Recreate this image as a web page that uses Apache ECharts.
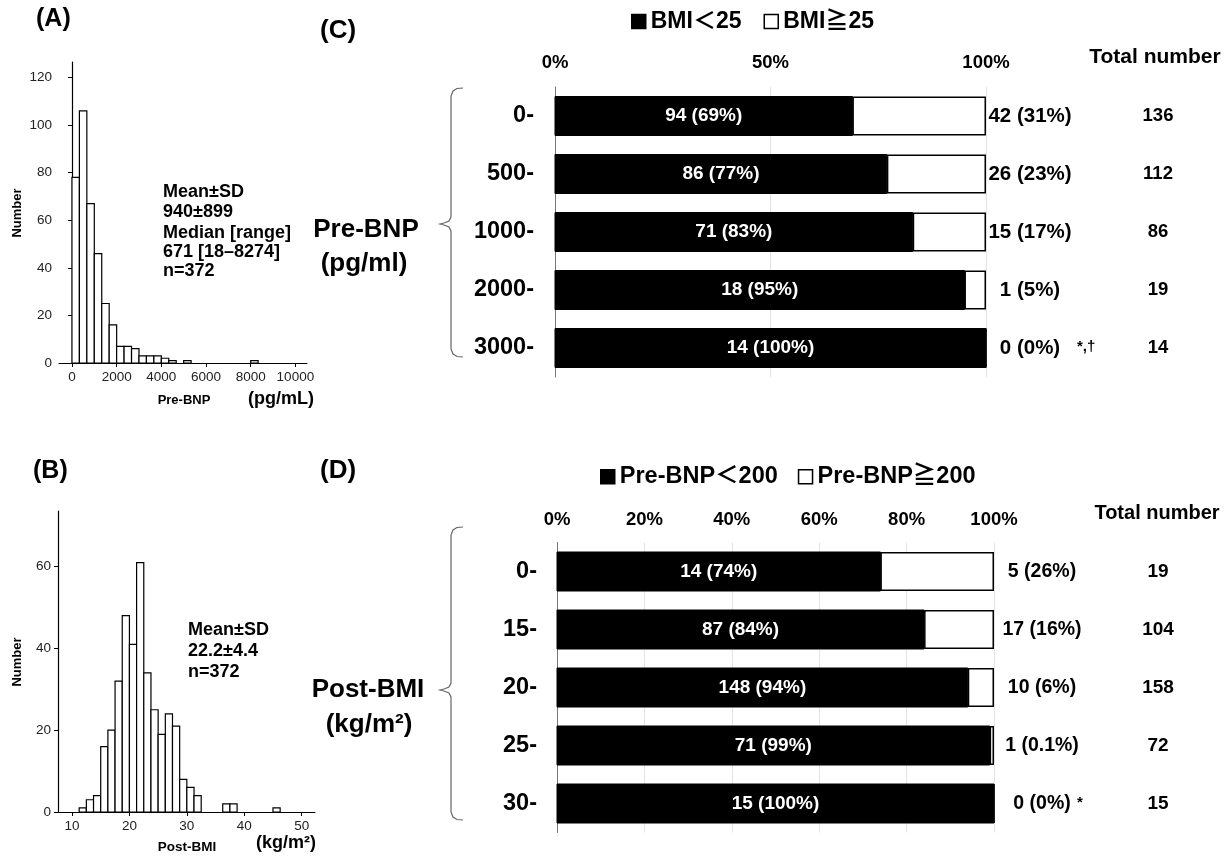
<!DOCTYPE html>
<html>
<head>
<meta charset="utf-8">
<script src="https://cdn.jsdelivr.net/npm/echarts@6/dist/echarts.min.js"></script>
<style>
html,body{margin:0;padding:0;background:#fff;}
#chart{width:1231px;height:856px;}
</style>
</head>
<body>
<div id="chart"></div>
<script>
// ---------- Data ----------
// (A) Pre-BNP histogram
const preBnpBinStart = [0,333,667,1000,1333,1667,2000,2333,2667,3000,3333,3667,4000,4333,5000,8000];
const preBnpBinCount = [78,106,67,46,25,16,7,7,6,3,3,3,2,1,1,1];
const preBnpBinWidth = 333;
const preBnpTicks = [0,2000,4000,6000,8000,10000];
const histACountTicks = [0,20,40,60,80,100,120];

// (B) Post-BMI histogram
const postBmiBinStart = [11.25,12.5,13.75,15,16.25,17.5,18.75,20,21.25,22.5,23.75,25,26.25,27.5,28.75,30,31.25,36.25,37.5,45];
const postBmiBinCount = [1,3,4,16,20,32,48,41,61,34,25,19,24,21,8,6,4,2,2,1];
const postBmiBinWidth = 1.25;
const postBmiTicks = [10,20,30,40,50];
const histBCountTicks = [0,20,40,60];

// (C) BMI by Pre-BNP category
const cCats = ['0-','500-','1000-','2000-','3000-'];
const cLowCount = [94,86,71,18,14];
const cLowPct = [69,77,83,95,100];
const cHighCount = [42,26,15,1,0];
const cHighPct = [31,23,17,5,0];
const cTotal = [136,112,86,19,14];
const cNote = ['','','','','*,\u2020'];

// (D) Pre-BNP by Post-BMI category
const dCats = ['0-','15-','20-','25-','30-'];
const dLowCount = [14,87,148,71,15];
const dLowPct = [74,84,94,99,100];
const dHighCount = [5,17,10,1,0];
const dHighPct = [26,16,6,1,0];
const dHighPctLabel = ['26','16','6','0.1','0'];
const dTotal = [19,104,158,72,15];
const dNote = ['','','','','*'];

// ---------- Chart ----------
const FONT = '"Liberation Sans", Arial, "Noto Sans CJK JP", sans-serif';
const chart = echarts.init(document.getElementById('chart'), null, {renderer:'canvas'});

function histRender(width){
  return function(params, api){
    const s = api.value(0), c = api.value(1);
    const p0 = api.coord([s, c]);
    const p1 = api.coord([s + width, 0]);
    return {type:'rect',
      shape:{x:p0[0], y:p0[1], width:p1[0]-p0[0], height:p1[1]-p0[1]},
      style:{fill:'#fff', stroke:'#000', lineWidth:1.2}};
  };
}

function txt(text, x, y, size, opts){
  opts = opts || {};
  return {type:'text', x:x, y:y, rotation: opts.rotation || 0,
    style:{text:text, font:(opts.weight||'bold')+' '+size+'px '+FONT, fill:opts.color||'#000',
      textAlign:opts.align||'left', align:opts.align||'left',
      textVerticalAlign:'middle', verticalAlign:'middle'}};
}

function rightRender(highCount, highLabel, total, note, labOff, totOff, noteOff, labSize, totSize){
  return function(params, api){
    const i = params.dataIndex;
    const p = api.coord([api.value(0), api.value(1)]);
    const ch = [
      txt(highCount[i] + ' (' + highLabel[i] + '%)', p[0]+labOff, p[1], labSize, {align:'center'}),
      txt(String(total[i]), p[0]+totOff, p[1], totSize, {align:'center'})
    ];
    if (note[i]) ch.push(txt(note[i], p[0]+noteOff, p[1]-1, 15, {align:'left'}));
    return {type:'group', children:ch};
  };
}

function bracket(top, mid, bottom){
  return {type:'polyline', shape:{points:[
      [463,top],[457,top+0.5],[453,top+3],[451,top+8],
      [451,mid-6],[449,mid-2],[444,mid],[440,mid+1],[444,mid+2],[449,mid+4],[451,mid+8],
      [451,bottom-8],[453,bottom-3],[457,bottom-0.5],[463,bottom]]},
    style:{fill:null, stroke:'#666', lineWidth:1.2}};
}

const histAxisLine = {show:true, lineStyle:{color:'#000', width:1.2}};
const histTick = {show:true, length:4, lineStyle:{color:'#000', width:1}};
const histLabel = {color:'#222', fontSize:13.5, fontFamily:FONT, formatter:v=>String(v)};

const option = {
  animation:false,
  backgroundColor:'#fff',
  textStyle:{fontFamily:FONT},
  legend:[
    {data:['BMI\uFF1C25','BMI\u226725'], left:626, top:5, itemWidth:14, itemHeight:14, itemGap:22,
     icon:'rect', itemStyle:{borderWidth:1.5},
     textStyle:{fontSize:23, fontWeight:'bold', color:'#000', fontFamily:FONT}},
    {data:['Pre-BNP\uFF1C200','Pre-BNP\u2267200'], left:595, top:460, itemWidth:14, itemHeight:14, itemGap:20,
     icon:'rect', itemStyle:{borderWidth:1.5},
     textStyle:{fontSize:23.5, fontWeight:'bold', color:'#000', fontFamily:FONT}}
  ],
  grid:[
    {left:59, top:62, width:248, height:301},
    {left:58, top:511, width:257, height:301},
    {left:555, top:87, width:431, height:290},
    {left:557, top:542.5, width:437, height:290}
  ],
  xAxis:[
    {type:'value', gridIndex:0, min:-580, max:10520, axisLine:histAxisLine,
     axisTick:Object.assign({customValues:preBnpTicks}, histTick),
     axisLabel:Object.assign({customValues:preBnpTicks, margin:8}, histLabel), splitLine:{show:false}},
    {type:'value', gridIndex:1, min:7.56, max:52.32, axisLine:histAxisLine,
     axisTick:Object.assign({customValues:postBmiTicks}, histTick),
     axisLabel:Object.assign({customValues:postBmiTicks, margin:8}, histLabel), splitLine:{show:false}},
    {type:'value', gridIndex:2, position:'top', min:0, max:100, interval:50,
     axisLine:{show:false}, axisTick:{show:false},
     axisLabel:{formatter:'{value}%', fontSize:18.5, fontWeight:'bold', color:'#000', margin:15, fontFamily:FONT},
     splitLine:{show:true, lineStyle:{color:'#e4e4e4', width:1}}},
    {type:'value', gridIndex:3, position:'top', min:0, max:100, interval:20,
     axisLine:{show:false}, axisTick:{show:false},
     axisLabel:{formatter:'{value}%', fontSize:18.5, fontWeight:'bold', color:'#000', margin:13, fontFamily:FONT},
     splitLine:{show:true, lineStyle:{color:'#e4e4e4', width:1}}}
  ],
  yAxis:[
    {type:'value', gridIndex:0, min:0, max:126.5, axisLine:histAxisLine,
     axisTick:Object.assign({customValues:histACountTicks}, histTick),
     axisLabel:Object.assign({customValues:histACountTicks, margin:7}, histLabel), splitLine:{show:false}},
    {type:'value', gridIndex:1, min:0, max:73.6, axisLine:histAxisLine,
     axisTick:Object.assign({customValues:histBCountTicks}, histTick),
     axisLabel:Object.assign({customValues:histBCountTicks, margin:7}, histLabel), splitLine:{show:false}},
    {type:'category', gridIndex:2, data:cCats, inverse:true,
     axisLine:{show:true, lineStyle:{color:'#777', width:1}}, axisTick:{show:false},
     axisLabel:{fontSize:23.5, fontWeight:'bold', color:'#000', margin:21, fontFamily:FONT}},
    {type:'category', gridIndex:3, data:dCats, inverse:true,
     axisLine:{show:true, lineStyle:{color:'#777', width:1}}, axisTick:{show:false},
     axisLabel:{fontSize:23.5, fontWeight:'bold', color:'#000', margin:20, fontFamily:FONT}}
  ],
  series:[
    {type:'custom', name:'histA', xAxisIndex:0, yAxisIndex:0,
     data:preBnpBinStart.map((s,i)=>[s, preBnpBinCount[i]]), renderItem:histRender(preBnpBinWidth)},
    {type:'custom', name:'histB', xAxisIndex:1, yAxisIndex:1,
     data:postBmiBinStart.map((s,i)=>[s, postBmiBinCount[i]]), renderItem:histRender(postBmiBinWidth)},

    {type:'bar', name:'BMI\uFF1C25', xAxisIndex:2, yAxisIndex:2, stack:'c', barWidth:39, data:cLowPct,
     itemStyle:{color:'#000', borderColor:'#000'},
     label:{show:true, position:'inside', color:'#fff', fontSize:19, fontWeight:'bold', fontFamily:FONT,
       formatter:p=>cLowCount[p.dataIndex]+' ('+cLowPct[p.dataIndex]+'%)'}},
    {type:'bar', name:'BMI\u226725', xAxisIndex:2, yAxisIndex:2, stack:'c', barWidth:39, data:cHighPct,
     itemStyle:{color:'#fff', borderColor:'#000', borderWidth:1.5}},
    {type:'custom', name:'cRight', xAxisIndex:2, yAxisIndex:2, clip:false,
     data:cCats.map((c,i)=>[100, i]),
     renderItem:rightRender(cHighCount, cHighPct, cTotal, cNote, 44, 172, 91, 20.5, 18.5)},

    {type:'bar', name:'Pre-BNP\uFF1C200', xAxisIndex:3, yAxisIndex:3, stack:'d', barWidth:39, data:dLowPct,
     itemStyle:{color:'#000', borderColor:'#000'},
     label:{show:true, position:'inside', color:'#fff', fontSize:19, fontWeight:'bold', fontFamily:FONT,
       formatter:p=>dLowCount[p.dataIndex]+' ('+dLowPct[p.dataIndex]+'%)'}},
    {type:'bar', name:'Pre-BNP\u2267200', xAxisIndex:3, yAxisIndex:3, stack:'d', barWidth:39, data:dHighPct,
     itemStyle:{color:'#fff', borderColor:'#000', borderWidth:1.5}},
    {type:'custom', name:'dRight', xAxisIndex:3, yAxisIndex:3, clip:false,
     data:dCats.map((c,i)=>[100, i]),
     renderItem:rightRender(dHighCount, dHighPctLabel, dTotal, dNote, 48, 164, 83, 19.5, 19)}
  ],
  graphic:[
    txt('(A)', 36, 19, 25),
    txt('(B)', 33, 471, 25),
    txt('(C)', 320, 31, 26),
    txt('(D)', 320, 471, 26),
    txt('Number', 17, 213, 13, {rotation:Math.PI/2, align:'center'}),
    txt('Number', 17, 662, 13, {rotation:Math.PI/2, align:'center'}),
    txt('Pre-BNP', 184, 400, 13, {align:'center'}),
    txt('(pg/mL)', 281, 399, 18, {align:'center'}),
    txt('Post-BMI', 187, 847, 13.5, {align:'center'}),
    txt('(kg/m\u00B2)', 286, 843, 18, {align:'center'}),
    txt('Mean\u00B1SD', 163, 192, 18),
    txt('940\u00B1899', 163, 212, 18),
    txt('Median [range]', 163, 233, 18),
    txt('671 [18\u20138274]', 163, 252, 18),
    txt('n=372', 163, 271, 18),
    txt('Mean\u00B1SD', 188, 630, 18),
    txt('22.2\u00B14.4', 188, 651, 18),
    txt('n=372', 188, 672, 18),
    txt('Pre-BNP', 366, 230, 26, {align:'center'}),
    txt('(pg/ml)', 364, 264, 26, {align:'center'}),
    txt('Post-BMI', 368, 690, 26, {align:'center'}),
    txt('(kg/m\u00B2)', 369, 725, 26, {align:'center'}),
    txt('Total number', 1155, 57, 21, {align:'center'}),
    txt('Total number', 1157, 513, 20, {align:'center'}),
    bracket(88, 223, 357),
    bracket(527, 689, 820)
  ]
};
chart.setOption(option);
</script>
</body>
</html>
